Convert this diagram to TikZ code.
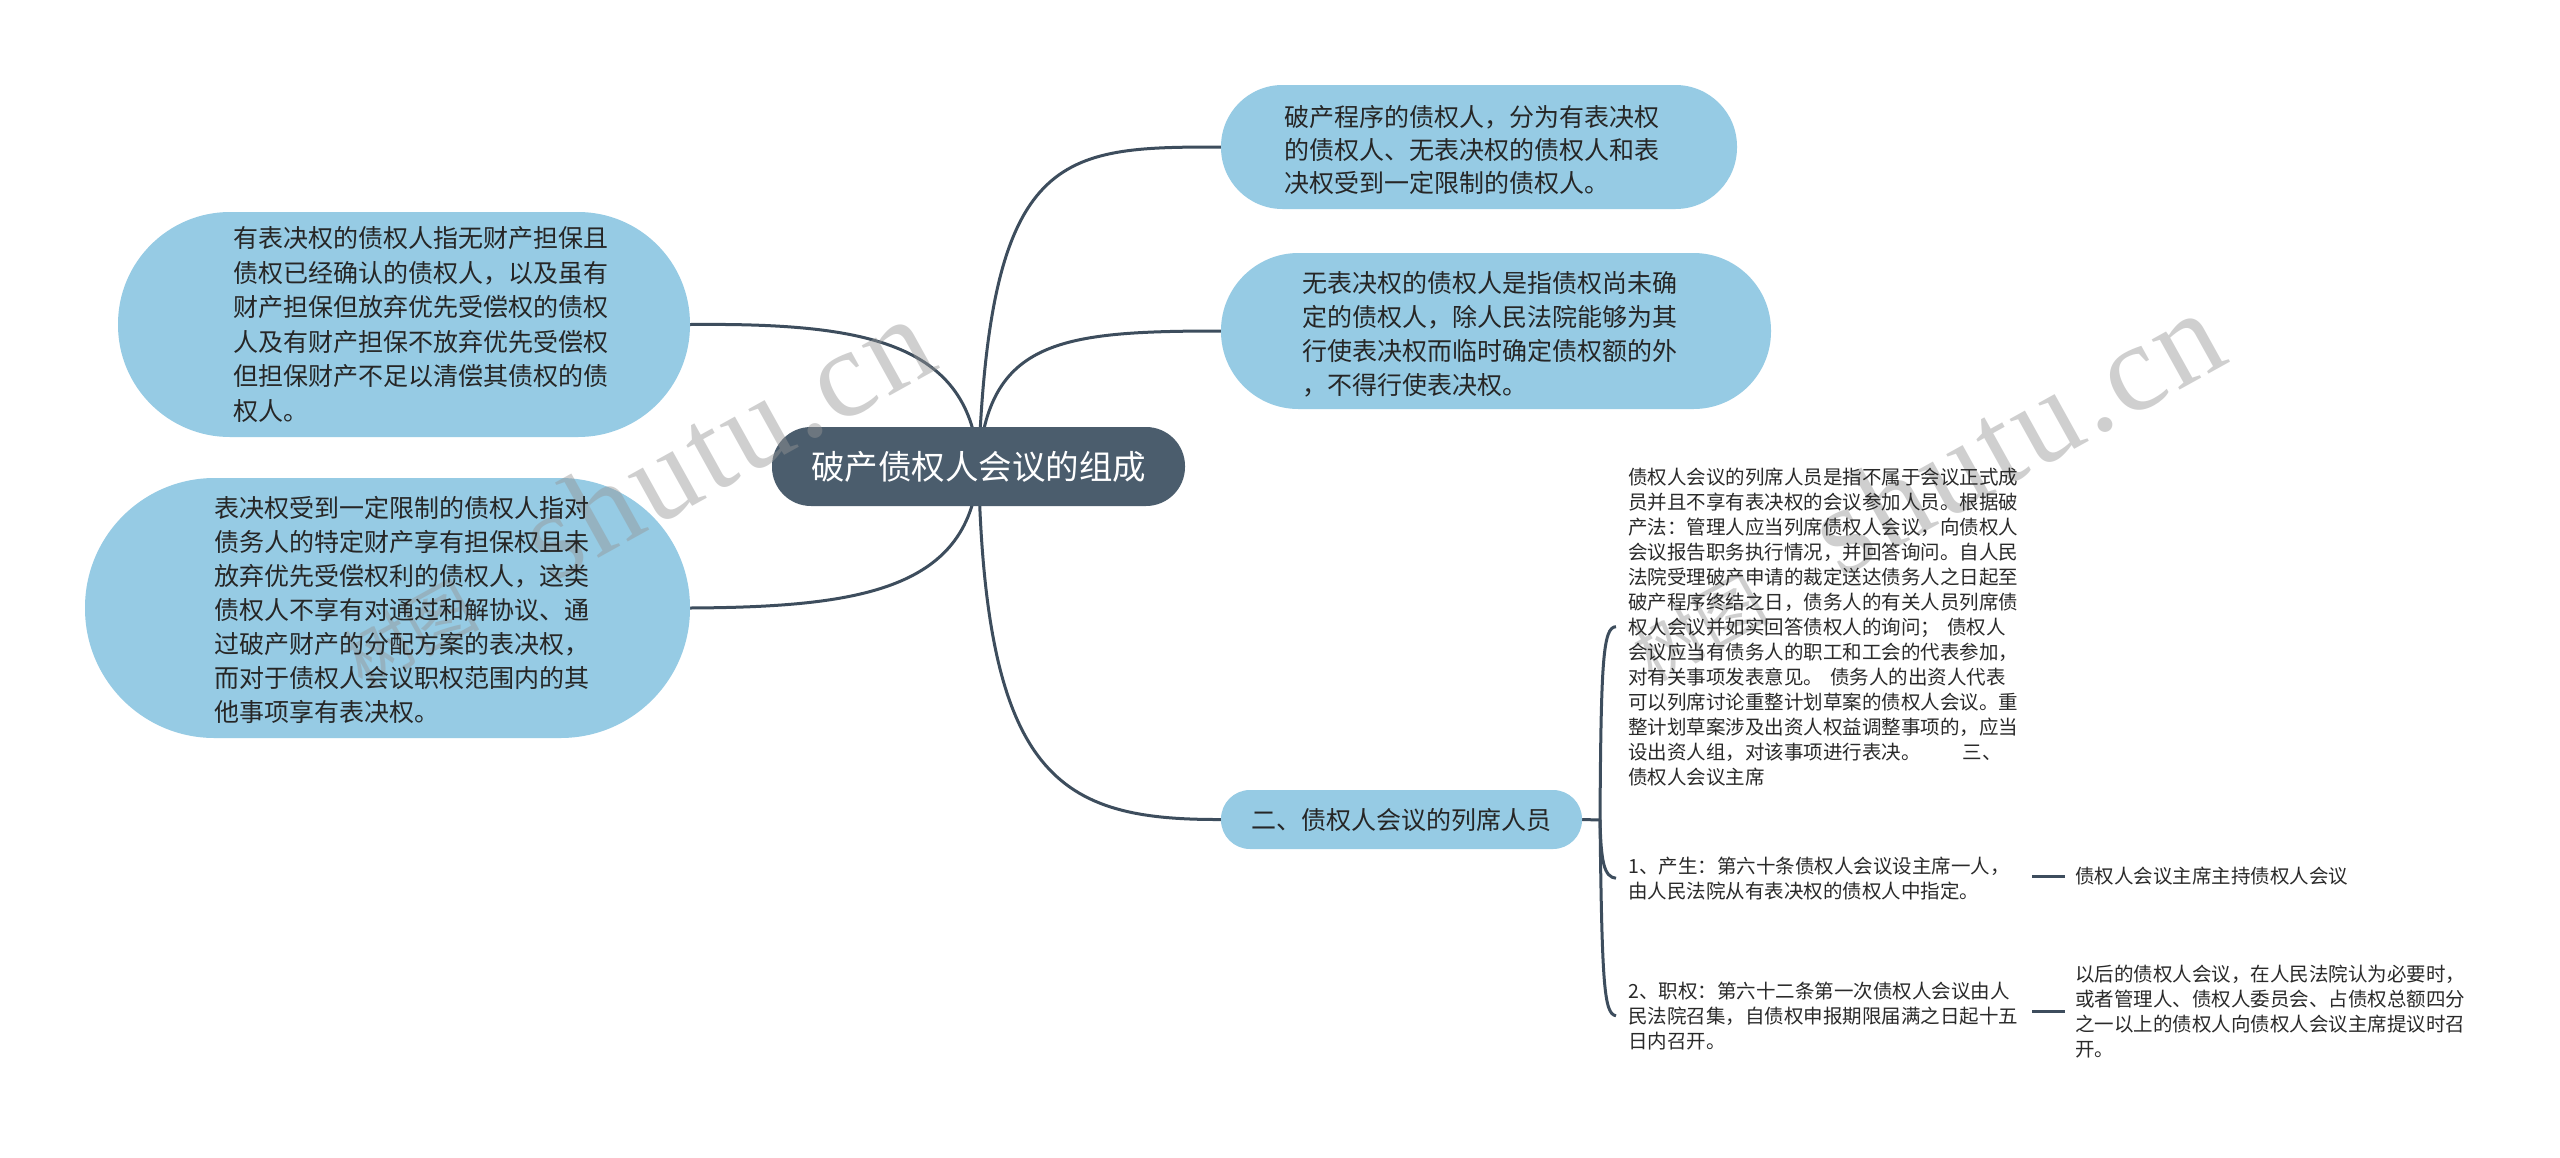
\documentclass[tikz,border=0pt]{standalone}
\usepackage{fontspec}
\setmainfont{Noto Sans CJK SC}
\newfontfamily\wmlatin{Liberation Serif}
\usetikzlibrary{backgrounds}
\definecolor{bubblec}{HTML}{96CBE4}
\definecolor{rootc}{HTML}{4B5D6D}
\definecolor{linec}{HTML}{3D4D5D}
\definecolor{txtc}{HTML}{262626}
\definecolor{smallc}{HTML}{2A2A2A}
\definecolor{wmc}{HTML}{959595}
\newcommand\wmword{s\kern4pt h\kern4pt u\kern4pt t\kern4pt u\kern4pt .\kern4pt c\kern4pt n}
\tikzset{
  conn/.style={draw=linec, line width=3pt},
  bubble/.style={fill=bubblec, draw=none, inner sep=0pt},
  bigtxt/.style={anchor=north west, inner sep=0pt, align=left, text=txtc},
  smalltxt/.style={anchor=north west, inner xsep=12pt, inner ysep=0pt, text width=392pt, align=left, text=smallc, font=\fontsize{19.5}{25}\selectfont},
  leaftxt/.style={inner xsep=10pt, inner ysep=0pt, align=left, text=smallc, font=\fontsize{19.5}{25}\selectfont},
  wmark/.style={text=wmc, opacity=0.45, rotate=29, inner sep=0pt},
}
\begin{document}
\begin{tikzpicture}[x=1pt,y=-1pt]
\useasboundingbox (0,0) rectangle (2560,1157);
\begin{scope}[on background layer]
\fill[white] (0,0) rectangle (2560,1157);
\end{scope}

% bubbles
\node[bubble, fill=rootc, minimum width=413pt, minimum height=79pt, rounded corners=39pt, text=white, font=\fontsize{33.5}{40}\selectfont] (root) at (978.5,466.5) {破产债权人会议的组成};
\node[bubble, minimum width=516pt, minimum height=124pt, rounded corners=61.5pt] (r1) at (1479,147) {};
\node[bubble, minimum width=550pt, minimum height=156pt, rounded corners=77.5pt] (r2) at (1496,331) {};
\node[bubble, minimum width=572pt, minimum height=225pt, rounded corners=112pt] (l1) at (404,324.5) {};
\node[bubble, minimum width=605pt, minimum height=260pt, rounded corners=129.5pt] (l2) at (387.5,608) {};
\node[bubble, minimum width=361pt, minimum height=59pt, rounded corners=29pt, text=txtc, font=\fontsize{25}{30}\selectfont] (sec) at (1401.5,819.5) {二、债权人会议的列席人员};

% watermarks
\node[wmark, anchor=base west, font=\fontsize{125}{125}\selectfont\wmlatin] (wm1l) at (550,585) {\wmword};
\node[wmark, anchor=base east, font=\fontsize{68}{68}\selectfont] (wm1c) at (482,622) {树图};
\node[wmark, anchor=base west, font=\fontsize{125}{125}\selectfont\wmlatin] (wm2l) at (1840,579) {\wmword};
\node[wmark, anchor=base east, font=\fontsize{68}{68}\selectfont] (wm2c) at (1772,616) {树图};

% bubble texts
\node[bigtxt, font=\fontsize{25}{33}\selectfont] (r1t) at (1284,103.4) {\strut 破产程序的债权人，分为有表决权\\的债权人、无表决权的债权人和表\\决权受到一定限制的债权人。};
\node[bigtxt, font=\fontsize{25}{34}\selectfont] (r2t) at (1302,268.7) {\strut 无表决权的债权人是指债权尚未确\\定的债权人，除人民法院能够为其\\行使表决权而临时确定债权额的外\\，不得行使表决权。};
\node[bigtxt, font=\fontsize{25}{34.5}\selectfont] (l1t) at (233,223.4) {\strut 有表决权的债权人指无财产担保且\\债权已经确认的债权人，以及虽有\\财产担保但放弃优先受偿权的债权\\人及有财产担保不放弃优先受偿权\\但担保财产不足以清偿其债权的债\\权人。};
\node[bigtxt, font=\fontsize{25}{34}\selectfont] (l2t) at (214,493.7) {\strut 表决权受到一定限制的债权人指对\\债务人的特定财产享有担保权且未\\放弃优先受偿权利的债权人，这类\\债权人不享有对通过和解协议、通\\过破产财产的分配方案的表决权，\\而对于债权人会议职权范围内的其\\他事项享有表决权。};

% small texts
\node[smalltxt] (long) at (1616,466.9) {\noindent\strut 债权人会议的列席人员是指不属于会议正式成\\员并且不享有表决权的会议参加人员。根据破\\产法：管理人应当列席债权人会议，向债权人\\会议报告职务执行情况，并回答询问。自人民\\法院受理破产申请的裁定送达债务人之日起至\\破产程序终结之日，债务人的有关人员列席债\\权人会议并如实回答债权人的询问；\hspace{7pt}债权人\\会议应当有债务人的职工和工会的代表参加，\\对有关事项发表意见。\hspace{7pt}债务人的出资人代表\\可以列席讨论重整计划草案的债权人会议。重\\整计划草案涉及出资人权益调整事项的，应当\\设出资人组，对该事项进行表决。\hspace{42pt}三、\\债权人会议主席};
\node[smalltxt] (item1) at (1616,856) {\noindent\strut 1、产生：第六十条债权人会议设主席一人，\\由人民法院从有表决权的债权人中指定。};
\node[smalltxt] (item2) at (1616,981) {\noindent\strut 2、职权：第六十二条第一次债权人会议由人\\民法院召集，自债权申报期限届满之日起十五\\日内召开。};
\node[leaftxt, anchor=west] (leaf1) at (2065,876) {债权人会议主席主持债权人会议};
\node[leaftxt, anchor=north west] (leaf2) at (2065,964) {\strut 以后的债权人会议，在人民法院认为必要时，\\或者管理人、债权人委员会、占债权总额四分\\之一以上的债权人向债权人会议主席提议时召\\开。};

% connectors
\coordinate (br) at (1600,820);
\begin{scope}[on background layer]
\draw[conn] (root.center) .. controls (972,340) and (860,323) .. (l1.east);
\draw[conn] (root.center) .. controls (972,590) and (860,607) .. (l2.east);
\draw[conn] (root.center) .. controls (990,150) and (1060,147) .. (r1.west);
\draw[conn] (root.center) .. controls (988,340) and (1060,331) .. (r2.west);
\draw[conn] (root.center) .. controls (985,780) and (1060,820) .. (sec.west);
\draw[conn] (sec.east) -- (br);
\draw[conn] (br) .. controls (1601,660) and (1603,627) .. (long.west);
\draw[conn] (br) .. controls (1601,862) and (1604,877) .. (item1.west);
\draw[conn] (br) .. controls (1602,985) and (1604,1014) .. (item2.west);
\draw[conn] (item1.east |- leaf1.west) -- (leaf1.west);
\draw[conn] (item2.east |- leaf2.west) -- (leaf2.west);
\end{scope}
\end{tikzpicture}
\end{document}
